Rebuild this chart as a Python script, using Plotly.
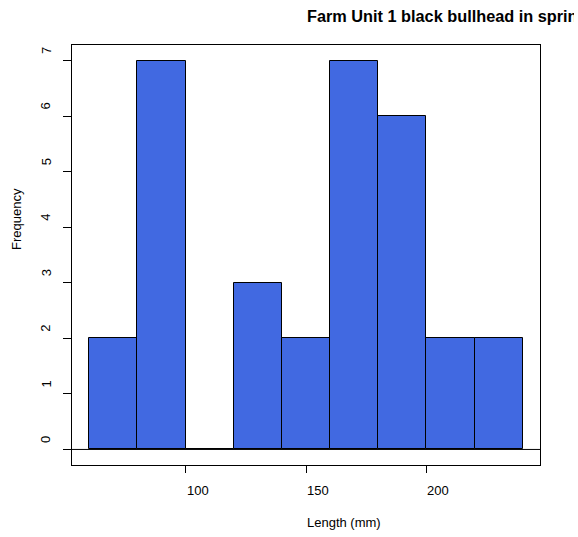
import plotly.graph_objects as go

# Data
breaks = [60, 80, 100, 120, 140, 160, 180, 200, 220, 240]
counts = [2, 7, 0, 3, 2, 7, 6, 2, 2]
x_ticks = [100, 150, 200]
y_ticks = [0, 1, 2, 3, 4, 5, 6, 7]
title = "Farm Unit 1 black bullhead in spring"
x_title = "Length (mm)"
y_title = "Frequency"

mids = [(breaks[i] + breaks[i + 1]) / 2 for i in range(len(counts))]
widths = [breaks[i + 1] - breaks[i] for i in range(len(counts))]

W, H = 574, 537
L, R, T, B = 72, 34, 45, 72
FONT = "Liberation Sans, Arial, sans-serif"

fig = go.Figure()
fig.add_trace(go.Bar(
    x=mids, y=counts, width=widths,
    marker=dict(color="#4169E1", line=dict(color="black", width=1)),
    hoverinfo="x+y",
))

xlo, xhi = breaks[0], breaks[-1]
xpad = (xhi - xlo) * 0.04
ylo, yhi = 0, max(counts)
ypad = (yhi - ylo) * 0.04

fig.update_layout(
    width=W, height=H,
    margin=dict(l=L, r=R, t=T, b=B, pad=0),
    plot_bgcolor="white", paper_bgcolor="white",
    showlegend=False,
    bargap=0,
    font=dict(family=FONT, size=13, color="black"),
    xaxis=dict(range=[xlo - xpad, xhi + xpad], showgrid=False, zeroline=False,
               showline=True, linecolor="black", linewidth=1, mirror=True,
               ticks="outside", ticklen=7, tickcolor="black", tickvals=x_ticks,
               showticklabels=False),
    yaxis=dict(range=[ylo - ypad, yhi + ypad], showgrid=False, zeroline=False,
               showline=True, linecolor="black", linewidth=1, mirror=True,
               ticks="outside", ticklen=8, tickcolor="black", tickvals=y_ticks,
               showticklabels=False),
)

# zero line across the plot
fig.add_shape(type="line", xref="paper", yref="y", x0=0, x1=1, y0=0, y1=0,
              line=dict(color="black", width=1))

ann = []
for v in x_ticks:
    ann.append(dict(x=v, xref="x", y=0, yref="paper", yshift=-(490.5 - (H - B)),
                    text=str(v), showarrow=False, xanchor="left", yanchor="middle",
                    borderpad=0, font=dict(size=13)))
for v in y_ticks:
    ann.append(dict(x=0, xref="paper", xshift=46 - L, y=v, yref="y", yshift=5,
                    text=str(v), showarrow=False, textangle=-90,
                    xanchor="center", yanchor="bottom", borderpad=0,
                    font=dict(size=13)))
ann.append(dict(x=0.5, xref="paper", y=0, yref="paper", yshift=-(522.8 - (H - B)),
                text=x_title, showarrow=False, xanchor="left", yanchor="middle",
                borderpad=0, font=dict(size=13)))
ann.append(dict(x=0, xref="paper", xshift=16 - L, y=0.5, yref="paper", yshift=4,
                text=y_title, showarrow=False, textangle=-90,
                xanchor="center", yanchor="bottom", borderpad=0,
                font=dict(size=13)))
ann.append(dict(x=0.5, xref="paper", y=1, yref="paper", yshift=T - 16,
                text="<b>" + title + "</b>", showarrow=False,
                xanchor="left", yanchor="middle", borderpad=0,
                font=dict(size=16.3)))
fig.update_layout(annotations=ann)

fig.write_html("out.html", config={"displayModeBar": False},
               post_script="document.body.style.margin='0';document.body.style.overflow='hidden';")
